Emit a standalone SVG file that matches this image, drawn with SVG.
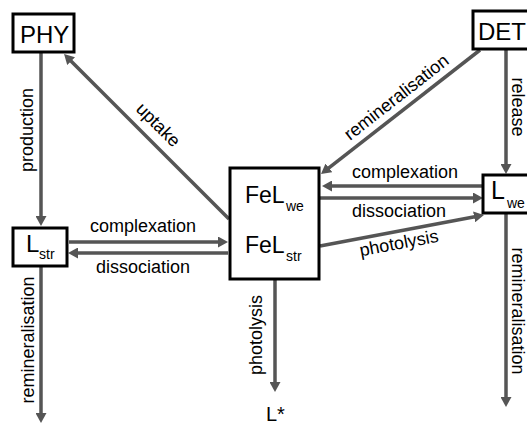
<svg xmlns="http://www.w3.org/2000/svg" width="527" height="424" viewBox="0 0 527 424">
<defs>
<style>
.box{fill:#fff;stroke:#000;stroke-width:3}
.node{font-family:"Liberation Sans",Arial,sans-serif;fill:#000}
.lbl{font-family:"Liberation Sans",Arial,sans-serif;font-size:18px;fill:#000}
.c{stroke:#555;stroke-width:3.5;fill:none;marker-end:url(#ah)}
</style>
<marker id="ah" viewBox="0 0 10 11" markerWidth="10" markerHeight="11" refX="2" refY="5.5" orient="auto" markerUnits="userSpaceOnUse">
<path d="M0,0 L10,5.5 L0,11 z" fill="#555"/>
</marker>
</defs>
<rect width="527" height="424" fill="#fff"/>
<g id="connectors">
<line class="c" x1="41" y1="53" x2="41" y2="218"/>
<line class="c" x1="41" y1="267" x2="41" y2="415"/>
<line class="c" x1="69" y1="242" x2="220" y2="242"/>
<line class="c" x1="228" y1="253" x2="76" y2="253"/>
<line class="c" x1="229" y1="219" x2="69.7" y2="59.7"/>
<line class="c" x1="480" y1="50" x2="327.3" y2="169.1"/>
<line class="c" x1="483" y1="186" x2="330" y2="186"/>
<line class="c" x1="320" y1="198" x2="475" y2="198"/>
<line class="c" x1="320" y1="246" x2="476.1" y2="216.5"/>
<line class="c" x1="275" y1="280" x2="275" y2="384"/>
<line class="c" x1="506" y1="50" x2="506" y2="166"/>
<line class="c" x1="506" y1="214" x2="506" y2="399"/>
<text class="lbl" text-anchor="middle" transform="translate(33,130) rotate(-90)">production</text>
<text class="lbl" text-anchor="middle" transform="translate(34,340) rotate(-90)">remineralisation</text>
<text class="lbl" text-anchor="middle" x="143" y="232">complexation</text>
<text class="lbl" text-anchor="middle" x="143" y="273">dissociation</text>
<text class="lbl" text-anchor="middle" transform="translate(154,129) rotate(45)">uptake</text>
<text class="lbl" text-anchor="middle" transform="translate(400,102) rotate(-38)">remineralisation</text>
<text class="lbl" text-anchor="middle" x="405" y="178">complexation</text>
<text class="lbl" text-anchor="middle" x="399" y="217">dissociation</text>
<text class="lbl" text-anchor="middle" transform="translate(400,249) rotate(-10.7)">photolysis</text>
<text class="lbl" text-anchor="middle" transform="translate(262,335) rotate(-90)">photolysis</text>
<text class="lbl" text-anchor="middle" transform="translate(512,107) rotate(90)">release</text>
<text class="lbl" text-anchor="middle" transform="translate(512,311) rotate(90)">remineralisation</text>
</g>
<g id="PHY">
<rect class="box" x="13" y="14" width="61" height="38"/>
<text class="node" x="20" y="43" font-size="24">PHY</text>
</g>
<g id="DET">
<rect class="box" x="473" y="11" width="60" height="38"/>
<text class="node" x="478" y="40" font-size="24">DET</text>
</g>
<g id="Lstr">
<rect class="box" x="13" y="228" width="54" height="38"/>
<text class="node" x="26" y="252" font-size="24">L</text>
<text class="node" x="39" y="259" font-size="14">str</text>
</g>
<g id="Lwe">
<rect class="box" x="483" y="175" width="50" height="38"/>
<text class="node" x="491" y="199" font-size="25">L</text>
<text class="node" x="507" y="208" font-size="14">we</text>
</g>
<g id="FeL">
<rect class="box" x="230" y="168" width="89" height="111"/>
<text class="node" x="245" y="203" font-size="23">FeL</text>
<text class="node" x="286" y="211" font-size="14">we</text>
<text class="node" x="245" y="253" font-size="23">FeL</text>
<text class="node" x="286" y="261" font-size="14">str</text>
</g>
<g id="Lstar">
<text class="node" x="266" y="421" font-size="20">L*</text>
</g>
</svg>
